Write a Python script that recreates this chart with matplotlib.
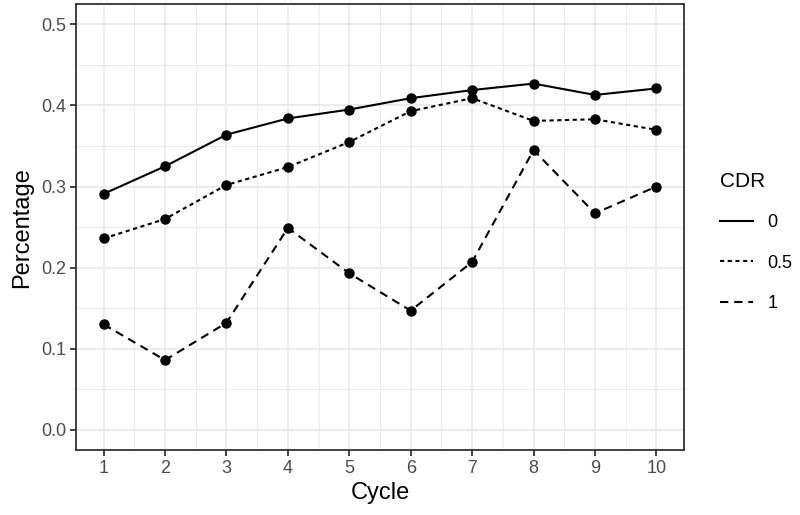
import matplotlib
matplotlib.use("Agg")
import matplotlib.pyplot as plt
from matplotlib.lines import Line2D

plt.rcParams['font.family'] = ['Liberation Sans', 'DejaVu Sans']

cycle = [1, 2, 3, 4, 5, 6, 7, 8, 9, 10]
cdr_0 = [0.291, 0.325, 0.364, 0.384, 0.395, 0.409, 0.419, 0.427, 0.413, 0.421]
cdr_05 = [0.236, 0.260, 0.302, 0.324, 0.355, 0.393, 0.409, 0.381, 0.383, 0.370]
cdr_1 = [0.130, 0.086, 0.132, 0.249, 0.193, 0.147, 0.207, 0.345, 0.267, 0.300]
labels = ["0", "0.5", "1"]

styles = [dict(linestyle="-"),
          dict(dashes=(2.0, 1.7)),
          dict(dashes=(4, 2.8))]

fig = plt.figure(figsize=(8, 5.15), dpi=100)
ax = fig.add_axes([0.095, 0.126, 0.76, 0.866])

for vals, st in zip([cdr_0, cdr_05, cdr_1], styles):
    ax.plot(cycle, vals, color="black", lw=1.5, marker="o", markersize=6.5, **st)

ax.set_xlim(0.55, 10.45)
ax.set_ylim(-0.025, 0.525)
ax.set_xticks(cycle)
ax.set_yticks([0.0, 0.1, 0.2, 0.3, 0.4, 0.5])
ax.set_yticklabels(["0.0", "0.1", "0.2", "0.3", "0.4", "0.5"])
ax.set_xticks([x + 0.5 for x in cycle[:-1]], minor=True)
ax.set_yticks([0.05, 0.15, 0.25, 0.35, 0.45], minor=True)
ax.grid(True, which="major", color="#EBEBEB", lw=1.3)
ax.grid(True, which="minor", color="#EBEBEB", lw=0.7)
ax.set_axisbelow(True)
ax.tick_params(which="major", length=4, width=1.3, color="#333333",
               labelsize=13, labelcolor="#4D4D4D", pad=3)
ax.tick_params(which="minor", length=0)
for s in ax.spines.values():
    s.set_color("#333333")
    s.set_linewidth(1.3)

ax.set_xlabel("Cycle", fontsize=17, labelpad=4)
ax.set_ylabel("Percentage", fontsize=17, labelpad=6)

handles = [Line2D([0], [0], color="black", lw=1.5, **st) for st in styles]
leg = fig.legend(handles, labels, title="CDR", loc="center left",
                 bbox_to_anchor=(0.88, 0.53), frameon=False, fontsize=13,
                 title_fontsize=15, handlelength=1.8, labelspacing=1.3,
                 handletextpad=0.8)
leg._legend_box.align = "left"

fig.savefig("out.png", dpi=100)
